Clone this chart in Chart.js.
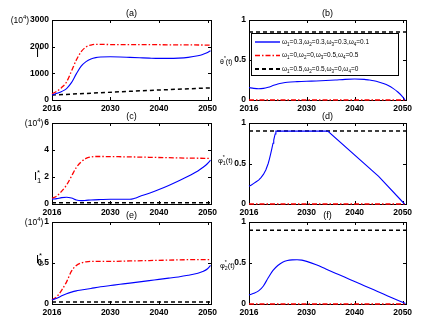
<!DOCTYPE html>
<html>
<head>
<meta charset="utf-8">
<script src="https://cdn.jsdelivr.net/npm/chart.js@4.4.1/dist/chart.umd.min.js"></script>
<style>
html, body { margin: 0; padding: 0; background: #fff; }
#wrap { position: relative; width: 428px; height: 330px; overflow: hidden; }
#wrap canvas { position: absolute; left: 0; top: 0; }
</style>
</head>
<body>
<div id="wrap">
  <canvas id="pa" width="428" height="330"></canvas>
  <canvas id="pb" width="428" height="330"></canvas>
  <canvas id="pc" width="428" height="330"></canvas>
  <canvas id="pd" width="428" height="330"></canvas>
  <canvas id="pe" width="428" height="330"></canvas>
  <canvas id="pf" width="428" height="330"></canvas>
</div>
<script>
// x axis: position 0 is 2016, ticks as labelled in the figure
const tickPos = [0, 12, 22, 32];
const tickYears = ['2016', '2030', '2040', '2050'];
const xMax = 32.7;

// (a) I*
const aBlueT = [0, 1, 2, 3, 4, 5, 6, 7, 8, 9, 10, 12, 14, 16, 18, 20, 22, 24, 26, 28, 30, 31, 32, 32.6];
const aBlueY = [190, 250, 320, 430, 650, 980, 1270, 1440, 1540, 1590, 1610, 1620, 1615, 1600, 1585, 1570, 1560, 1560, 1570, 1600, 1660, 1710, 1780, 1850];
const aRedT = [0, 1, 2, 3, 4, 5, 6, 7, 8, 9, 10, 12, 16, 20, 24, 28, 32.6];
const aRedY = [230, 330, 470, 680, 1080, 1500, 1810, 1990, 2060, 2085, 2085, 2080, 2075, 2075, 2070, 2065, 2060];
const aBlackT = [0, 8, 16, 24, 32.6];
const aBlackY = [185, 255, 325, 390, 455];

// (b) theta*(t)
const bBlueT = [0, 1, 2, 3, 4, 5, 6, 7, 8, 10, 12, 14, 16, 18, 20, 22, 24, 25, 26, 27, 28, 29, 30, 31, 32, 32.5];
const bBlueY = [0.155, 0.145, 0.14, 0.145, 0.16, 0.18, 0.2, 0.213, 0.222, 0.23, 0.235, 0.238, 0.243, 0.25, 0.258, 0.262, 0.258, 0.25, 0.24, 0.225, 0.205, 0.18, 0.145, 0.1, 0.04, 0];
const bRedT = [0, 32.7];
const bRedY = [0, 0];
const bBlackT = [0, 32.7];
const bBlackY = [0.85, 0.85];

// (c) I1*
const cBlueT = [0, 1, 2, 3, 4, 5, 6, 7, 8, 10, 12, 14, 16, 17, 18, 20, 22, 24, 26, 28, 30, 31, 32, 32.6];
const cBlueY = [0.35, 0.4, 0.47, 0.5, 0.44, 0.3, 0.25, 0.27, 0.3, 0.33, 0.35, 0.35, 0.35, 0.42, 0.55, 0.8, 1.07, 1.37, 1.7, 2.05, 2.45, 2.7, 3.0, 3.25];
const cRedT = [0, 1, 2, 3, 4, 5, 6, 7, 8, 9, 10, 12, 16, 20, 24, 28, 32.6];
const cRedY = [0.42, 0.6, 0.95, 1.41, 2.05, 2.7, 3.12, 3.38, 3.48, 3.52, 3.52, 3.51, 3.49, 3.46, 3.43, 3.4, 3.38];
const cBlackT = [0, 32.7];
const cBlackY = [0.1, 0.1];

// (d) phi1*(t)
const dBlueT = [0, 0.5, 1, 1.5, 2, 2.5, 3, 3.5, 4, 4.25, 4.5, 4.75, 5, 5.15, 5.3, 5.45, 5.6, 16.4, 27, 32.4];
const dBlueY = [0.22, 0.235, 0.255, 0.275, 0.295, 0.325, 0.365, 0.42, 0.5, 0.555, 0.615, 0.68, 0.75, 0.79, 0.83, 0.865, 0.9, 0.9, 0.34, 0];
const dRedT = [0, 32.7];
const dRedY = [0, 0];
const dBlackT = [0, 32.7];
const dBlackY = [0.9, 0.9];

// (e) I2*
const eBlueT = [0, 1, 2, 3, 4, 5, 6, 8, 10, 12, 14, 16, 18, 20, 22, 24, 26, 28, 30, 31, 32, 32.6];
const eBlueY = [0.05, 0.07, 0.1, 0.125, 0.145, 0.16, 0.17, 0.19, 0.21, 0.225, 0.24, 0.255, 0.27, 0.285, 0.3, 0.315, 0.33, 0.35, 0.375, 0.395, 0.43, 0.47];
const eRedT = [0, 1, 2, 3, 4, 5, 6, 7, 8, 10, 12, 16, 20, 24, 28, 32.6];
const eRedY = [0.05, 0.09, 0.17, 0.27, 0.4, 0.47, 0.5, 0.515, 0.52, 0.52, 0.52, 0.525, 0.53, 0.535, 0.54, 0.54];
const eBlackT = [0, 32.7];
const eBlackY = [0.025, 0.025];

// (f) phi2*(t)
const fBlueT = [0, 1, 2, 3, 4, 5, 6, 7, 8, 9, 10, 11, 12, 14, 16, 18, 20, 22, 24, 26, 28, 30, 32, 32.6];
const fBlueY = [0.11, 0.13, 0.16, 0.22, 0.32, 0.41, 0.47, 0.51, 0.53, 0.538, 0.54, 0.535, 0.52, 0.478, 0.427, 0.376, 0.325, 0.275, 0.224, 0.173, 0.122, 0.07, 0.02, 0.005];
const fRedT = [0, 32.7];
const fRedY = [0, 0];
const fBlackT = [0, 32.7];
const fBlackY = [0.9, 0.9];

const legendTexts = [
  [['ω', '1'], ['=0.3,ω', '2'], ['=0.3,ω', '3'], ['=0.3,ω', '4'], ['=0.1']],
  [['ω', '1'], ['=0,ω', '2'], ['=0,ω', '3'], ['=0.5,ω', '4'], ['=0.5']],
  [['ω', '1'], ['=0.5,ω', '2'], ['=0.5,ω', '3'], ['=0,ω', '4'], ['=0']]
];

const FAM = '"Liberation Sans", Arial, sans-serif';
const BLUE = '#0000ff', RED = '#ff0000', BLACK = '#000000';
const blueStyle = { color: BLUE, width: 1.1, dash: [] };
const redStyle = { color: RED, width: 1.3, dash: [5, 2, 1.5, 2] };
const blackStyle = { color: BLACK, width: 1.5, dash: [4, 3] };

// text with subscripts / superscripts: each part is [main, sub, sup]
function richWidth(ctx, parts, size) {
  let w = 0;
  parts.forEach(p => {
    ctx.font = size + 'px ' + FAM;
    w += ctx.measureText(p[0] || '').width;
    ctx.font = (size * 0.7) + 'px ' + FAM;
    w += Math.max(ctx.measureText(p[1] || '').width, ctx.measureText(p[2] || '').width);
  });
  return w;
}
function drawRich(ctx, x, y, parts, size) {
  ctx.textAlign = 'left';
  ctx.textBaseline = 'alphabetic';
  const base = y + size * 0.36;
  parts.forEach(p => {
    ctx.font = size + 'px ' + FAM;
    ctx.fillText(p[0] || '', x, base);
    x += ctx.measureText(p[0] || '').width;
    ctx.font = (size * 0.7) + 'px ' + FAM;
    let w = 0;
    if (p[1]) { ctx.fillText(p[1], x, base + size * 0.3); w = ctx.measureText(p[1]).width; }
    if (p[2]) { ctx.fillText(p[2], x, base - size * 0.45); w = Math.max(w, ctx.measureText(p[2]).width); }
    x += w;
  });
}

const decor = {
  id: 'decor',
  beforeDatasetsDraw(chart) {
    const ctx = chart.ctx, a = chart.chartArea;
    const xs = chart.scales.x, ys = chart.scales.y;
    ctx.save();
    ctx.strokeStyle = '#000';
    ctx.lineWidth = 1;
    ctx.strokeRect(a.left + 0.5, a.top + 0.5, a.right - a.left, a.bottom - a.top);
    ctx.beginPath();
    xs.ticks.forEach(t => {
      const p = Math.round(xs.getPixelForValue(t.value)) + 0.5;
      ctx.moveTo(p, a.bottom); ctx.lineTo(p, a.bottom - 3);
      ctx.moveTo(p, a.top); ctx.lineTo(p, a.top + 3);
    });
    ys.ticks.forEach(t => {
      const p = Math.round(ys.getPixelForValue(t.value)) + 0.5;
      ctx.moveTo(a.left, p); ctx.lineTo(a.left + 3, p);
      ctx.moveTo(a.right, p); ctx.lineTo(a.right - 3, p);
    });
    ctx.stroke();
    ctx.restore();
  },
  afterDraw(chart, args, o) {
    const ctx = chart.ctx, a = chart.chartArea;
    ctx.save();
    ctx.fillStyle = '#000';
    ctx.font = '9px ' + FAM;
    ctx.textAlign = 'center';
    ctx.textBaseline = 'middle';
    ctx.fillText(o.title, (a.left + a.right) / 2, a.top - 6.5);
    drawRich(ctx, o.labX, o.labY, o.label, o.labSize);
    if (o.exp) {
      const ys = chart.scales.y;
      const top = ys.ticks[ys.ticks.length - 1];
      ctx.font = 'bold 8.5px ' + FAM;
      const tw = ctx.measureText(top.label).width;
      const parts = [['(10', '', '4'], [')']];
      const w = richWidth(ctx, parts, 8.5);
      ctx.fillStyle = '#000';
      drawRich(ctx, a.left - 3 - tw - 1 - w, a.top, parts, 8.5);
    }
    if (o.legend) {
      const L = 251, T = 33, R = 398, B = 75;
      ctx.fillStyle = '#fff';
      ctx.fillRect(L, T, R - L, B - T);
      ctx.strokeStyle = '#000';
      ctx.lineWidth = 1;
      ctx.setLineDash([]);
      ctx.strokeRect(L + 0.5, T + 0.5, R - L, B - T);
      const rows = [42, 55.5, 69];
      [blueStyle, redStyle, blackStyle].forEach((s, i) => {
        ctx.strokeStyle = s.color;
        ctx.lineWidth = s.width + 0.3;
        ctx.setLineDash(s.dash);
        ctx.beginPath();
        ctx.moveTo(255, rows[i]);
        ctx.lineTo(280, rows[i]);
        ctx.stroke();
        ctx.fillStyle = '#000';
        drawRich(ctx, 282, rows[i] - 0.5, legendTexts[i], 6.5);
      });
    }
    ctx.restore();
  }
};

function series(t, y, st) {
  return { t: t, y: y, st: st };
}

function makePanel(id, box, yMax, yStep, list, straight, deco) {
  const left = box[0], top = box[1], right = box[2], bottom = box[3];
  const tickFont = { family: FAM, size: 8.5, weight: 'bold' };
  new Chart(document.getElementById(id), {
    type: 'line',
    data: {
      datasets: list.map(s => ({
        data: s.t.map((t, i) => ({ x: t, y: s.y[i] })),
        borderColor: s.st.color,
        borderWidth: s.st.width,
        borderDash: s.st.dash,
        pointRadius: 0,
        fill: false,
        tension: 0,
        cubicInterpolationMode: straight ? 'default' : 'monotone',
        clip: 4
      }))
    },
    options: {
      responsive: false,
      animation: false,
      devicePixelRatio: 1,
      events: [],
      layout: { padding: { left: left - 30, top: top, right: 428 - right, bottom: 330 - bottom - 20 } },
      plugins: { legend: { display: false }, tooltip: { enabled: false }, decor: deco },
      scales: {
        x: {
          type: 'linear', min: 0, max: xMax,
          grid: { display: false, drawTicks: false },
          border: { display: false },
          afterBuildTicks: s => { s.ticks = tickPos.map(v => ({ value: v })); },
          afterFit: s => { s.height = 20; },
          ticks: {
            color: '#000', font: tickFont, padding: 4, maxRotation: 0, autoSkip: false,
            callback: v => tickYears[tickPos.indexOf(v)]
          }
        },
        y: {
          min: 0, max: yMax,
          grid: { display: false, drawTicks: false },
          border: { display: false },
          afterFit: s => { s.width = 30; },
          ticks: { color: '#000', font: tickFont, padding: 3, stepSize: yStep, callback: v => String(v) }
        }
      }
    },
    plugins: [decor]
  });
}

makePanel('pa', [52, 20, 211, 100], 3000, 1000,
  [series(aBlueT, aBlueY, blueStyle), series(aRedT, aRedY, redStyle), series(aBlackT, aBlackY, blackStyle)], false,
  { title: '(a)', label: [['I', '', '*']], labX: 36, labY: 53, labSize: 11, exp: true });

makePanel('pb', [249, 20, 406, 100], 1, 0.5,
  [series(bBlueT, bBlueY, blueStyle), series(bRedT, bRedY, redStyle), series(bBlackT, bBlackY, blackStyle)], false,
  { title: '(b)', label: [['θ', '', '*'], ['(t)']], labX: 220, labY: 61, labSize: 7 });

makePanel('pc', [52, 123, 211, 204], 6, 2,
  [series(cBlueT, cBlueY, blueStyle), series(cRedT, cRedY, redStyle), series(cBlackT, cBlackY, blackStyle)], false,
  { title: '(c)', label: [['I', '1', '*']], labX: 34, labY: 176, labSize: 11, exp: true });

makePanel('pd', [249, 123, 406, 204], 1, 0.5,
  [series(dBlueT, dBlueY, blueStyle), series(dRedT, dRedY, redStyle), series(dBlackT, dBlackY, blackStyle)], true,
  { title: '(d)', label: [['φ', '1', '*'], ['(t)']], labX: 218, labY: 160, labSize: 7.5 });

makePanel('pe', [52, 222, 211, 304], 1, 0.5,
  [series(eBlueT, eBlueY, blueStyle), series(eRedT, eRedY, redStyle), series(eBlackT, eBlackY, blackStyle)], false,
  { title: '(e)', label: [['I', '2', '*']], labX: 36, labY: 259, labSize: 11, exp: true });

makePanel('pf', [249, 222, 406, 304], 1, 0.5,
  [series(fBlueT, fBlueY, blueStyle), series(fRedT, fRedY, redStyle), series(fBlackT, fBlackY, blackStyle)], false,
  { title: '(f)', label: [['φ', '2', '*'], ['(t)']], labX: 220, labY: 265, labSize: 7.5 });

// legend is drawn on top of panel (b)
Chart.getChart('pb').options.plugins.decor.legend = true;
Chart.getChart('pb').update('none');
</script>
</body>
</html>
